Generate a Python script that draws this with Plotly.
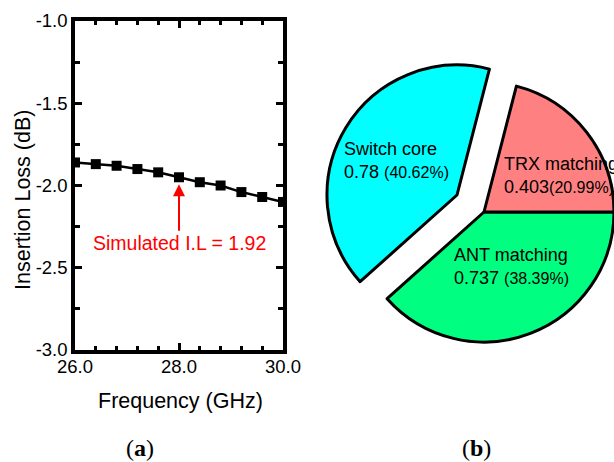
import plotly.graph_objects as go

# Insertion loss vs. frequency (left panel)
freq_ghz = [26.0, 26.4, 26.8, 27.2, 27.6, 28.0, 28.4, 28.8, 29.2, 29.6, 30.0]
insertion_loss_db = [-1.86, -1.87, -1.88, -1.90, -1.92, -1.95, -1.98, -2.00, -2.04, -2.07, -2.10]
x_ticks = [26.0, 28.0, 30.0]
y_ticks = [-3.0, -2.5, -2.0, -1.5, -1.0]

# Loss breakdown (right panel), in dB, listed clockwise from 3 o'clock
loss_parts = ["ANT matching", "Switch core", "TRX matching"]
loss_values = [0.737, 0.78, 0.403]
part_colors = ["#00FF80", "#00FFFF", "#FF8080"]
pulled_part = "Switch core"

W, H = 614, 462
total_loss = sum(loss_values)


def px_x(v):
    return v / W


def px_y(v):
    return 1 - v / H


fig = go.Figure()

# ---- left panel ----
fig.add_trace(go.Scatter(
    x=freq_ghz, y=insertion_loss_db, mode="lines+markers",
    line=dict(color="black", width=2.5),
    marker=dict(symbol="square", size=10, color="black"),
    showlegend=False, hoverinfo="x+y",
))

axis_font = dict(family="Liberation Sans, Arial, sans-serif", size=18.5, color="black")
fig.update_layout(
    xaxis=dict(
        domain=[px_x(75), px_x(283)], range=[26, 30], automargin=False,
        tickvals=x_ticks, ticktext=[f"{v:.1f}" for v in x_ticks],
        ticks="inside", ticklen=7, tickwidth=2.5, tickcolor="black",
        minor=dict(dtick=0.4, tick0=26, ticks="inside", ticklen=4, tickwidth=2.5, tickcolor="black"),
        showline=True, linewidth=3.5, linecolor="black", mirror="ticks",
        showgrid=False, zeroline=False, tickfont=axis_font, ticklabelstandoff=-3,
    ),
    yaxis=dict(
        domain=[px_y(350), px_y(21)], range=[-3, -1], automargin=False,
        tickvals=y_ticks, ticktext=[f"{v:.1f}" for v in y_ticks],
        ticks="inside", ticklen=7, tickwidth=2.5, tickcolor="black",
        minor=dict(dtick=0.25, tick0=-3, ticks="inside", ticklen=5, tickwidth=2.5, tickcolor="black"),
        showline=True, linewidth=3.5, linecolor="black", mirror="ticks",
        showgrid=False, zeroline=False, tickfont=axis_font,
    ),
)

# ---- right panel: exploded pie built from two aligned pies ----
r_pie = 130
cx, cy = 484, 212            # un-pulled slices
sx, sy = 457, 195            # pulled slice


def pie_domain(cx_, cy_):
    return dict(x=[px_x(cx_ - r_pie), min(1.0, px_x(cx_ + r_pie))],
                y=[px_y(cy_ + r_pie), px_y(cy_ - r_pie)])


common = dict(labels=loss_parts, values=loss_values, sort=False,
              direction="clockwise", rotation=90,
              textinfo="none", showlegend=False, hoverinfo="label+value+percent")
clear = "rgba(0,0,0,0)"
is_pulled = [p == pulled_part for p in loss_parts]

fig.add_trace(go.Pie(
    domain=pie_domain(cx, cy),
    marker=dict(colors=[clear if p else c for p, c in zip(is_pulled, part_colors)],
                line=dict(color="black", width=[0 if p else 3 for p in is_pulled])),
    **common,
))
fig.add_trace(go.Pie(
    domain=pie_domain(sx, sy),
    marker=dict(colors=[c if p else clear for p, c in zip(is_pulled, part_colors)],
                line=dict(color="black", width=[3 if p else 0 for p in is_pulled])),
    **common,
))

# slice labels
label_pos = {"Switch core": (342, 160, " "), "TRX matching": (502, 175, ""), "ANT matching": (452, 266, " ")}
annotations = []
for name, val in zip(loss_parts, loss_values):
    x0, y0, gap = label_pos[name]
    pct = 100 * val / total_loss
    annotations.append(dict(
        x=px_x(x0), y=px_y(y0), xref="paper", yref="paper",
        xanchor="left", yanchor="middle", align="left", showarrow=False,
        text=f"{name}<br>{val:g}{gap}<span style='font-size:16px'>({pct:.2f}%)</span>",
        font=dict(family="Liberation Sans, Arial, sans-serif", size=18, color="black"),
    ))

# arrow pointing at 28 GHz
i28 = freq_ghz.index(28.0)
annotations.append(dict(
    x=freq_ghz[i28], y=insertion_loss_db[i28], xref="x", yref="y",
    text=f"Simulated I.L = {total_loss:.2f}", showarrow=True,
    ax=0, ay=66, arrowhead=2, arrowsize=1.2, arrowwidth=2, arrowcolor="red",
    standoff=7, font=dict(family="Liberation Sans, Arial, sans-serif", size=19.5, color="red"),
))

# axis titles
annotations.append(dict(
    x=px_x(180), y=px_y(401), xref="paper", yref="paper", showarrow=False,
    text="Frequency (GHz)", xanchor="center", yanchor="middle",
    font=dict(family="Liberation Sans, Arial, sans-serif", size=21.5, color="black"),
))
annotations.append(dict(
    x=px_x(23), y=px_y(200), xref="paper", yref="paper", showarrow=False,
    text="Insertion Loss (dB)", textangle=-90, xanchor="center", yanchor="middle",
    font=dict(family="Liberation Sans, Arial, sans-serif", size=21.5, color="black"),
))

# panel captions
for cap, xc in (("a", 140), ("b", 476)):
    annotations.append(dict(
        x=px_x(xc), y=px_y(448), xref="paper", yref="paper", showarrow=False,
        text=f"(<b>{cap}</b>)", xanchor="center", yanchor="middle",
        font=dict(family="Liberation Serif, serif", size=24, color="black"),
    ))

fig.update_layout(
    width=W, height=H, margin=dict(l=0, r=0, t=0, b=0, autoexpand=False),
    paper_bgcolor="white", plot_bgcolor="white",
    annotations=annotations,
)

fig.write_html("out.html")
